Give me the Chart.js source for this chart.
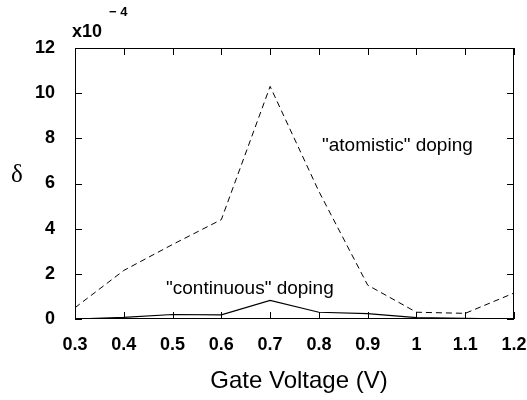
<!DOCTYPE html>
<html>
<head>
<meta charset="utf-8">
<script src="https://cdn.jsdelivr.net/npm/chart.js@4.4.0/dist/chart.umd.min.js"></script>
<style>
  html, body { margin: 0; padding: 0; background: #fff; }
  #wrap { width: 527px; height: 400px; }
</style>
</head>
<body>
<div id="wrap"><canvas id="chart" width="527" height="400"></canvas></div>
<script>
const gateVoltage = [0.3, 0.4, 0.5, 0.6, 0.7, 0.8, 0.9, 1.0, 1.1, 1.2];
const atomistic = [0.5, 2.15, 3.3, 4.4, 10.3, 5.65, 1.5, 0.3, 0.25, 1.15];
const continuous = [0.0, 0.07, 0.2, 0.18, 0.82, 0.3, 0.24, 0.06, 0.03, 0.0];
const xTickLabels = ['0.3', '0.4', '0.5', '0.6', '0.7', '0.8', '0.9', '1', '1.1', '1.2'];
const yTickLabels = ['0', '2', '4', '6', '8', '10', '12'];

const FONT = 'Liberation Sans, Arial, Helvetica, sans-serif';

const toPoints = arr => arr.map((v, i) => ({ x: gateVoltage[i], y: v }));

// frame, inward ticks and the free text
const framePlugin = {
  id: 'frame',
  afterDraw(c) {
    const { ctx, chartArea: a } = c;
    const xs = c.scales.x, ys = c.scales.y;
    ctx.save();
    ctx.strokeStyle = '#000';
    ctx.lineWidth = 1;
    ctx.strokeRect(a.left + 0.5, a.top + 0.5, a.right - a.left - 1, a.bottom - a.top - 1);
    ctx.beginPath();
    gateVoltage.forEach(v => {
      const px = Math.round(xs.getPixelForValue(v)) + 0.5;
      ctx.moveTo(px, a.bottom); ctx.lineTo(px, a.bottom - 7);
      ctx.moveTo(px, a.top); ctx.lineTo(px, a.top + 7);
    });
    yTickLabels.forEach(t => {
      const py = Math.round(ys.getPixelForValue(+t)) + 0.5;
      ctx.moveTo(a.left, py); ctx.lineTo(a.left + 7, py);
      ctx.moveTo(a.right, py); ctx.lineTo(a.right - 7, py);
    });
    ctx.stroke();

    ctx.fillStyle = '#000';
    ctx.textBaseline = 'middle';
    ctx.textAlign = 'center';
    ctx.font = '24px ' + FONT;
    ctx.fillText('Gate Voltage (V)', 299, 381);
    ctx.font = '25px Liberation Serif, serif';
    ctx.fillText('δ', 17, 175);
    ctx.textAlign = 'left';
    ctx.font = 'bold 18px ' + FONT;
    ctx.fillText('x10', 72, 32);
    ctx.font = 'bold 13px ' + FONT;
    ctx.fillText('− 4', 109, 12);
    ctx.font = '19px ' + FONT;
    ctx.fillText('"atomistic" doping', 322, 146);
    ctx.fillText('"continuous" doping', 166, 289);
    ctx.restore();
  }
};

new Chart(document.getElementById('chart'), {
  type: 'line',
  data: {
    datasets: [
      {
        label: 'atomistic',
        data: toPoints(atomistic),
        borderColor: '#000',
        borderWidth: 1,
        borderDash: [6, 4],
        pointRadius: 0,
        tension: 0
      },
      {
        label: 'continuous',
        data: toPoints(continuous),
        borderColor: '#000',
        borderWidth: 1.2,
        pointRadius: 0,
        tension: 0
      }
    ]
  },
  options: {
    responsive: false,
    animation: false,
    layout: { padding: { left: 0, right: 13, top: 48, bottom: 0 } },
    plugins: { legend: { display: false }, tooltip: { enabled: false } },
    scales: {
      x: {
        type: 'linear',
        min: 0.3,
        max: 1.2,
        afterFit: s => { s.height = 81; s.paddingLeft = 0; s.paddingRight = 0; },
        afterBuildTicks: s => { s.ticks = gateVoltage.map(v => ({ value: v })); },
        grid: { display: false, drawTicks: false },
        border: { display: false },
        ticks: {
          padding: 15,
          color: '#000',
          maxRotation: 0,
          autoSkip: false,
          font: { family: FONT, size: 18, weight: 'bold' },
          callback: (v, i) => xTickLabels[i]
        }
      },
      y: {
        min: 0,
        max: 12,
        afterFit: s => { s.width = 75; s.paddingTop = 0; s.paddingBottom = 0; },
        afterBuildTicks: s => { s.ticks = yTickLabels.map(t => ({ value: +t })); },
        grid: { display: false, drawTicks: false },
        border: { display: false },
        ticks: {
          padding: 20,
          color: '#000',
          font: { family: FONT, size: 18, weight: 'bold' },
          callback: (v, i) => yTickLabels[i]
        }
      }
    }
  },
  plugins: [framePlugin]
});
</script>
</body>
</html>
